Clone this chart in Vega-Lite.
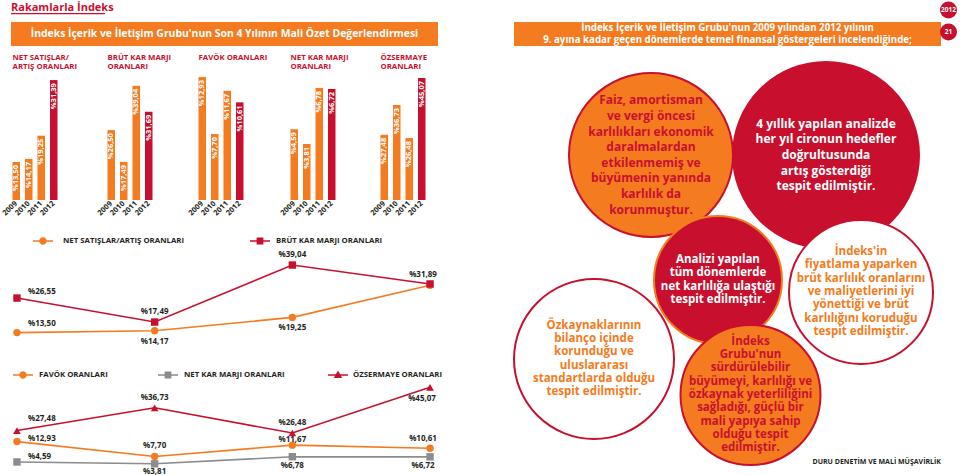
{
"$schema": "https://vega.github.io/schema/vega-lite/v6.json",
"padding": 0,
"background": "white",
"spacing": 0,
"bounds": "flush",
"resolve": {"scale": {"color": "independent", "shape": "independent", "fill": "independent", "stroke": "independent", "size": "independent"}},
"config": {"view": {"stroke": null}, "font": "Open Sans"},
"datasets": {
"cubuk": [
{"gosterge":"Net Satışlar","yil":"2009","deger":13.50},
{"gosterge":"Net Satışlar","yil":"2010","deger":14.17},
{"gosterge":"Net Satışlar","yil":"2011","deger":19.25},
{"gosterge":"Net Satışlar","yil":"2012","deger":31.39},
{"gosterge":"Brüt Kar Marjı","yil":"2009","deger":26.50},
{"gosterge":"Brüt Kar Marjı","yil":"2010","deger":17.49},
{"gosterge":"Brüt Kar Marjı","yil":"2011","deger":39.04},
{"gosterge":"Brüt Kar Marjı","yil":"2012","deger":31.69},
{"gosterge":"FAVÖK","yil":"2009","deger":12.93},
{"gosterge":"FAVÖK","yil":"2010","deger":7.70},
{"gosterge":"FAVÖK","yil":"2011","deger":11.67},
{"gosterge":"FAVÖK","yil":"2012","deger":10.61},
{"gosterge":"Net Kar Marjı","yil":"2009","deger":4.59},
{"gosterge":"Net Kar Marjı","yil":"2010","deger":3.81},
{"gosterge":"Net Kar Marjı","yil":"2011","deger":6.78},
{"gosterge":"Net Kar Marjı","yil":"2012","deger":6.72},
{"gosterge":"Özsermaye","yil":"2009","deger":27.48},
{"gosterge":"Özsermaye","yil":"2010","deger":36.73},
{"gosterge":"Özsermaye","yil":"2011","deger":26.48},
{"gosterge":"Özsermaye","yil":"2012","deger":45.07}
],
"cizgi": [
{"grafik":"A","seri":"NET SATIŞLAR/ARTIŞ ORANLARI","yil":"2009","deger":13.50},
{"grafik":"A","seri":"NET SATIŞLAR/ARTIŞ ORANLARI","yil":"2010","deger":14.17},
{"grafik":"A","seri":"NET SATIŞLAR/ARTIŞ ORANLARI","yil":"2011","deger":19.25},
{"grafik":"A","seri":"NET SATIŞLAR/ARTIŞ ORANLARI","yil":"2012","deger":31.39},
{"grafik":"A","seri":"BRÜT KAR MARJI ORANLARI","yil":"2009","deger":26.55},
{"grafik":"A","seri":"BRÜT KAR MARJI ORANLARI","yil":"2010","deger":17.49},
{"grafik":"A","seri":"BRÜT KAR MARJI ORANLARI","yil":"2011","deger":39.04},
{"grafik":"A","seri":"BRÜT KAR MARJI ORANLARI","yil":"2012","deger":31.89},
{"grafik":"B","seri":"FAVÖK ORANLARI","yil":"2009","deger":12.93},
{"grafik":"B","seri":"FAVÖK ORANLARI","yil":"2010","deger":7.70},
{"grafik":"B","seri":"FAVÖK ORANLARI","yil":"2011","deger":11.67},
{"grafik":"B","seri":"FAVÖK ORANLARI","yil":"2012","deger":10.61},
{"grafik":"B","seri":"NET KAR MARJI ORANLARI","yil":"2009","deger":4.59},
{"grafik":"B","seri":"NET KAR MARJI ORANLARI","yil":"2010","deger":3.81},
{"grafik":"B","seri":"NET KAR MARJI ORANLARI","yil":"2011","deger":6.78},
{"grafik":"B","seri":"NET KAR MARJI ORANLARI","yil":"2012","deger":6.72},
{"grafik":"B","seri":"ÖZSERMAYE ORANLARI","yil":"2009","deger":27.48},
{"grafik":"B","seri":"ÖZSERMAYE ORANLARI","yil":"2010","deger":36.73},
{"grafik":"B","seri":"ÖZSERMAYE ORANLARI","yil":"2011","deger":26.48},
{"grafik":"B","seri":"ÖZSERMAYE ORANLARI","yil":"2012","deger":45.07}
],
"baloncuk": [
{"tur":"turuncu","x":20.5,"y":10.9,"r":8.2,"metin":["Faiz, amortisman","ve vergi öncesi","karlılıkları ekonomik","daralmalardan","etkilenmemiş ve","büyümenin yanında","karlılık da","korunmuştur."]},
{"tur":"kırmızı","x":38.0,"y":10.9,"r":9.3,"metin":["4 yıllık yapılan analizde","her yıl cironun hedefler","doğrultusunda","artış gösterdiği","tespit edilmiştir."]},
{"tur":"kırmızı çerçeveli","x":27.2,"y":23.4,"r":6.4,"metin":["Analizi yapılan","tüm dönemlerde","net karlılığa ulaştığı","tespit edilmiştir."]},
{"tur":"beyaz","x":41.5,"y":24.6,"r":7.2,"metin":["İndeks'in","fiyatlama yaparken","brüt karlılık oranlarını","ve maliyetlerini iyi","yönettiği ve brüt","karlılığını koruduğu","tespit edilmiştir."]},
{"tur":"beyaz","x":14.8,"y":31.3,"r":8.0,"metin":["Özkaynaklarının","bilanço içinde","korunduğu ve","uluslararası","standartlarda olduğu","tespit edilmiştir."]},
{"tur":"turuncu","x":30.45,"y":34.9,"r":7.0,"metin":["İndeks","Grubu'nun","sürdürülebilir","büyümeyi, karlılığı ve","özkaynak yeterliliğini","sağladığı, güçlü bir","mali yapıya sahip","olduğu tespit","edilmiştir."]}
],
"rozet": [{"etiket":"2012"},{"etiket":"21"}]
},
"hconcat": [
{
"vconcat": [
{"width": 1, "height": 13, "data": {"values": []}, "mark": "point"},
{
"hconcat": [
{"width": 10, "height": 1, "data": {"values": []}, "mark": "point"},
{"width": 94, "height": 1.3, "view": {"fill": "#C8102E", "stroke": null}, "data": {"values": []}, "mark": "point"}
],
"spacing": 0, "bounds": "flush"
},
{"width": 1, "height": 9, "data": {"values": []}, "mark": "point"},
{
"hconcat": [
{"width": 10, "height": 24, "data": {"values": []}, "mark": "point"},
{"width": 427, "height": 24, "view": {"fill": "#F47B20", "stroke": null},
 "data": {"values": [{"metin": "İndeks İçerik ve İletişim Grubu'nun Son 4 Yılının Mali Özet Değerlendirmesi"}]},
 "title": {"text": "Rakamlarla İndeks", "anchor": "start", "frame": "group", "offset": 9, "fontSize": 11, "fontWeight": "bold", "color": "#C8102E"},
 "mark": {"type": "text", "fontSize": 10.4, "fontWeight": "bold", "color": "white", "baseline": "middle"},
 "encoding": {"text": {"field": "metin", "type": "nominal"}}},
{"width": 76, "height": 24, "data": {"values": []}, "mark": "point"},
{"width": 427, "height": 24, "view": {"fill": "#F47B20", "stroke": null},
 "data": {"values": [{"metin": ["İndeks İçerik ve İletişim Grubu'nun 2009 yılından 2012 yılının", "9. ayına kadar geçen dönemlerde temel finansal göstergeleri incelendiğinde;"]}]},
 "mark": {"type": "text", "fontSize": 9.7, "lineHeight": 12, "fontWeight": "bold", "color": "white", "baseline": "middle", "dy": -6},
 "encoding": {"text": {"field": "metin", "type": "nominal"}}}
],
"spacing": 0, "bounds": "flush",
"resolve": {"scale": {"color": "independent", "shape": "independent", "fill": "independent", "stroke": "independent", "size": "independent"}}
},
{"width": 1, "height": 24, "data": {"values": []}, "mark": "point"},
{
"hconcat": [
{
"vconcat": [
{"width": 1, "height": 29, "data": {"values": []}, "mark": "point"},
{
"hconcat": [
{"width": 8.5, "height": 1, "data": {"values": []}, "mark": "point"},
{"width": 50, "height": 125, "data": {"name": "cubuk"},
 "transform": [{"filter": "datum.gosterge == 'Net Satışlar'"}, {"calculate": "'%' + replace(format(datum.deger, '.2f'), '.', ',')", "as": "etiket"}],
 "title": {"text": ["NET SATIŞLAR/", "ARTIŞ ORANLARI"], "anchor": "start", "frame": "group", "dx": 2.5, "offset": 4, "fontSize": 7.8, "fontWeight": "bold", "color": "#C8102E", "lineHeight": 9.5},
 "encoding": {
  "x": {"field": "yil", "type": "ordinal", "scale": {"paddingInner": 0.4, "paddingOuter": 0.2}, "axis": {"title": null, "domain": false, "ticks": false, "labelAngle": -45, "labelAlign": "right", "labelBaseline": "middle", "labelFontSize": 7.5, "labelFontWeight": "bold", "labelColor": "#231F20", "labelPadding": 2, "labelOverlap": false}},
  "y": {"field": "deger", "type": "quantitative", "scale": {"domain": [5.2, 32.5], "zero": false, "nice": false, "clamp": true}, "axis": null}},
 "layer": [
  {"mark": {"type": "bar"}, "encoding": {"color": {"condition": {"test": "datum.yil == '2012'", "value": "#C8102E"}, "value": "#F47B20"}}},
  {"mark": {"type": "text", "angle": 270, "align": "right", "baseline": "middle", "dx": -3, "fontSize": 7.5, "fontWeight": "bold", "color": "white"}, "encoding": {"text": {"field": "etiket", "type": "nominal"}}}
 ]},
{"width": 45, "height": 1, "data": {"values": []}, "mark": "point"},
{"width": 50, "height": 125, "data": {"name": "cubuk"},
 "transform": [{"filter": "datum.gosterge == 'Brüt Kar Marjı'"}, {"calculate": "'%' + replace(format(datum.deger, '.2f'), '.', ',')", "as": "etiket"}],
 "title": {"text": ["BRÜT KAR MARJI", "ORANLARI"], "anchor": "start", "frame": "group", "dx": 2.5, "offset": 4, "fontSize": 7.8, "fontWeight": "bold", "color": "#C8102E", "lineHeight": 9.5},
 "encoding": {
  "x": {"field": "yil", "type": "ordinal", "scale": {"paddingInner": 0.4, "paddingOuter": 0.2}, "axis": {"title": null, "domain": false, "ticks": false, "labelAngle": -45, "labelAlign": "right", "labelBaseline": "middle", "labelFontSize": 7.5, "labelFontWeight": "bold", "labelColor": "#231F20", "labelPadding": 2, "labelOverlap": false}},
  "y": {"field": "deger", "type": "quantitative", "scale": {"domain": [6.7, 42.1], "zero": false, "nice": false, "clamp": true}, "axis": null}},
 "layer": [
  {"mark": {"type": "bar"}, "encoding": {"color": {"condition": {"test": "datum.yil == '2012'", "value": "#C8102E"}, "value": "#F47B20"}}},
  {"mark": {"type": "text", "angle": 270, "align": "right", "baseline": "middle", "dx": -3, "fontSize": 7.5, "fontWeight": "bold", "color": "white"}, "encoding": {"text": {"field": "etiket", "type": "nominal"}}}
 ]},
{"width": 41, "height": 1, "data": {"values": []}, "mark": "point"},
{"width": 50, "height": 125, "data": {"name": "cubuk"},
 "transform": [{"filter": "datum.gosterge == 'FAVÖK'"}, {"calculate": "'%' + replace(format(datum.deger, '.2f'), '.', ',')", "as": "etiket"}],
 "title": {"text": ["FAVÖK ORANLARI", " "], "anchor": "start", "frame": "group", "dx": 2.5, "offset": 4, "fontSize": 7.8, "fontWeight": "bold", "color": "#C8102E", "lineHeight": 9.5},
 "encoding": {
  "x": {"field": "yil", "type": "ordinal", "scale": {"paddingInner": 0.4, "paddingOuter": 0.2}, "axis": {"title": null, "domain": false, "ticks": false, "labelAngle": -45, "labelAlign": "right", "labelBaseline": "middle", "labelFontSize": 7.5, "labelFontWeight": "bold", "labelColor": "#231F20", "labelPadding": 2, "labelOverlap": false}},
  "y": {"field": "deger", "type": "quantitative", "scale": {"domain": [1.65, 13.12], "zero": false, "nice": false, "clamp": true}, "axis": null}},
 "layer": [
  {"mark": {"type": "bar"}, "encoding": {"color": {"condition": {"test": "datum.yil == '2012'", "value": "#C8102E"}, "value": "#F47B20"}}},
  {"mark": {"type": "text", "angle": 270, "align": "right", "baseline": "middle", "dx": -3, "fontSize": 7.5, "fontWeight": "bold", "color": "white"}, "encoding": {"text": {"field": "etiket", "type": "nominal"}}}
 ]},
{"width": 42, "height": 1, "data": {"values": []}, "mark": "point"},
{"width": 50, "height": 125, "data": {"name": "cubuk"},
 "transform": [{"filter": "datum.gosterge == 'Net Kar Marjı'"}, {"calculate": "'%' + replace(format(datum.deger, '.2f'), '.', ',')", "as": "etiket"}],
 "title": {"text": ["NET KAR MARJI", "ORANLARI"], "anchor": "start", "frame": "group", "dx": 2.5, "offset": 4, "fontSize": 7.8, "fontWeight": "bold", "color": "#C8102E", "lineHeight": 9.5},
 "encoding": {
  "x": {"field": "yil", "type": "ordinal", "scale": {"paddingInner": 0.4, "paddingOuter": 0.2}, "axis": {"title": null, "domain": false, "ticks": false, "labelAngle": -45, "labelAlign": "right", "labelBaseline": "middle", "labelFontSize": 7.5, "labelFontWeight": "bold", "labelColor": "#231F20", "labelPadding": 2, "labelOverlap": false}},
  "y": {"field": "deger", "type": "quantitative", "scale": {"domain": [0.85, 7.46], "zero": false, "nice": false, "clamp": true}, "axis": null}},
 "layer": [
  {"mark": {"type": "bar"}, "encoding": {"color": {"condition": {"test": "datum.yil == '2012'", "value": "#C8102E"}, "value": "#F47B20"}}},
  {"mark": {"type": "text", "angle": 270, "align": "right", "baseline": "middle", "dx": -3, "fontSize": 7.5, "fontWeight": "bold", "color": "white"}, "encoding": {"text": {"field": "etiket", "type": "nominal"}}}
 ]},
{"width": 40, "height": 1, "data": {"values": []}, "mark": "point"},
{"width": 50, "height": 125, "data": {"name": "cubuk"},
 "transform": [{"filter": "datum.gosterge == 'Özsermaye'"}, {"calculate": "'%' + replace(format(datum.deger, '.2f'), '.', ',')", "as": "etiket"}],
 "title": {"text": ["ÖZSERMAYE", "ORANLARI"], "anchor": "start", "frame": "group", "dx": 2.5, "offset": 4, "fontSize": 7.8, "fontWeight": "bold", "color": "#C8102E", "lineHeight": 9.5},
 "encoding": {
  "x": {"field": "yil", "type": "ordinal", "scale": {"paddingInner": 0.4, "paddingOuter": 0.2}, "axis": {"title": null, "domain": false, "ticks": false, "labelAngle": -45, "labelAlign": "right", "labelBaseline": "middle", "labelFontSize": 7.5, "labelFontWeight": "bold", "labelColor": "#231F20", "labelPadding": 2, "labelOverlap": false}},
  "y": {"field": "deger", "type": "quantitative", "scale": {"domain": [7.3, 46.0], "zero": false, "nice": false, "clamp": true}, "axis": null}},
 "layer": [
  {"mark": {"type": "bar"}, "encoding": {"color": {"condition": {"test": "datum.yil == '2012'", "value": "#C8102E"}, "value": "#F47B20"}}},
  {"mark": {"type": "text", "angle": 270, "align": "right", "baseline": "middle", "dx": -3, "fontSize": 7.5, "fontWeight": "bold", "color": "white"}, "encoding": {"text": {"field": "etiket", "type": "nominal"}}}
 ]}
],
"spacing": 0, "bounds": "flush",
"resolve": {"scale": {"color": "independent", "shape": "independent", "fill": "independent", "stroke": "independent", "size": "independent"}}
},
{"width": 1, "height": 155.5, "data": {"values": []}, "mark": "point"},
{
"hconcat": [
{"width": 32, "height": 1, "data": {"values": []}, "mark": "point"},
{"width": 20, "height": 20, "data": {"values": [{"seri": "NET SATIŞLAR/ARTIŞ ORANLARI"}]},
 "layer": [
  {"mark": {"type": "point", "shape": "M-1,-0.075H1V0.075H-1Z M0.37,0A0.37,0.37,0,1,1,-0.37,0A0.37,0.37,0,1,1,0.37,0Z", "size": 400, "filled": true, "opacity": 1, "color": "#F47B20"}},
  {"mark": {"type": "text", "align": "left", "baseline": "middle", "dx": 20, "fontSize": 7.8, "fontWeight": "bold", "color": "#231F20"}, "encoding": {"text": {"field": "seri", "type": "nominal"}}}
 ]},
{"width": 197, "height": 1, "data": {"values": []}, "mark": "point"},
{"width": 20, "height": 20, "data": {"values": [{"seri": "BRÜT KAR MARJI ORANLARI"}]},
 "layer": [
  {"mark": {"type": "point", "shape": "M-1,-0.075H1V0.075H-1Z M-0.34,-0.34H0.34V0.34H-0.34Z", "size": 400, "filled": true, "opacity": 1, "color": "#C8102E"}},
  {"mark": {"type": "text", "align": "left", "baseline": "middle", "dx": 16, "fontSize": 7.8, "fontWeight": "bold", "color": "#231F20"}, "encoding": {"text": {"field": "seri", "type": "nominal"}}}
 ]}
],
"spacing": 0, "bounds": "flush",
"resolve": {"scale": {"color": "independent", "shape": "independent", "fill": "independent", "stroke": "independent", "size": "independent"}}
},
{"width": 1, "height": 24.5, "data": {"values": []}, "mark": "point"},
{"width": 445, "height": 90, "data": {"name": "cizgi"},
 "transform": [{"filter": "datum.grafik == 'A'"}, {"calculate": "'%' + replace(format(datum.deger, '.2f'), '.', ',')", "as": "etiket"}],
 "encoding": {
  "x": {"field": "yil", "type": "ordinal", "scale": {"type": "point", "padding": 0.116}, "axis": null},
  "y": {"field": "deger", "type": "quantitative", "scale": {"domain": [8.43, 42.46], "zero": false, "nice": false}, "axis": null},
  "color": {"field": "seri", "type": "nominal", "scale": {"domain": ["NET SATIŞLAR/ARTIŞ ORANLARI", "BRÜT KAR MARJI ORANLARI"], "range": ["#F47B20", "#C8102E"]}, "legend": null}},
 "layer": [
  {"mark": {"type": "line", "strokeWidth": 1.6}},
  {"mark": {"type": "point", "filled": true, "opacity": 1, "size": 55},
   "encoding": {"shape": {"field": "seri", "type": "nominal", "scale": {"domain": ["NET SATIŞLAR/ARTIŞ ORANLARI", "BRÜT KAR MARJI ORANLARI"], "range": ["circle", "square"]}, "legend": null}}},
  {"transform": [{"filter": "datum.seri == 'BRÜT KAR MARJI ORANLARI' && datum.yil == '2009'"}], "mark": {"type": "text", "fontSize": 8, "fontWeight": "bold", "baseline": "middle", "align": "left", "dx": 11, "dy": -6}, "encoding": {"text": {"field": "etiket", "type": "nominal"}, "color": {"value": "#231F20"}}},
  {"transform": [{"filter": "datum.seri == 'NET SATIŞLAR/ARTIŞ ORANLARI' && datum.yil == '2009'"}], "mark": {"type": "text", "fontSize": 8, "fontWeight": "bold", "baseline": "middle", "align": "left", "dx": 11, "dy": -9}, "encoding": {"text": {"field": "etiket", "type": "nominal"}, "color": {"value": "#231F20"}}},
  {"transform": [{"filter": "datum.seri == 'BRÜT KAR MARJI ORANLARI' && (datum.yil == '2010' || datum.yil == '2011')"}], "mark": {"type": "text", "fontSize": 8, "fontWeight": "bold", "baseline": "middle", "align": "center", "dy": -10}, "encoding": {"text": {"field": "etiket", "type": "nominal"}, "color": {"value": "#231F20"}}},
  {"transform": [{"filter": "datum.seri == 'BRÜT KAR MARJI ORANLARI' && datum.yil == '2012'"}], "mark": {"type": "text", "fontSize": 8, "fontWeight": "bold", "baseline": "middle", "align": "center", "dx": -7, "dy": -9}, "encoding": {"text": {"field": "etiket", "type": "nominal"}, "color": {"value": "#231F20"}}},
  {"transform": [{"filter": "datum.seri == 'NET SATIŞLAR/ARTIŞ ORANLARI' && (datum.yil == '2010' || datum.yil == '2011')"}], "mark": {"type": "text", "fontSize": 8, "fontWeight": "bold", "baseline": "middle", "align": "center", "dy": 11}, "encoding": {"text": {"field": "etiket", "type": "nominal"}, "color": {"value": "#231F20"}}}
 ]},
{"width": 1, "height": 18.3, "data": {"values": []}, "mark": "point"},
{
"hconcat": [
{"width": 12, "height": 1, "data": {"values": []}, "mark": "point"},
{"width": 20, "height": 20, "data": {"values": [{"seri": "FAVÖK ORANLARI"}]},
 "layer": [
  {"mark": {"type": "point", "shape": "M-1,-0.075H1V0.075H-1Z M0.37,0A0.37,0.37,0,1,1,-0.37,0A0.37,0.37,0,1,1,0.37,0Z", "size": 400, "filled": true, "opacity": 1, "color": "#F47B20"}},
  {"mark": {"type": "text", "align": "left", "baseline": "middle", "dx": 16, "fontSize": 7.8, "fontWeight": "bold", "color": "#231F20"}, "encoding": {"text": {"field": "seri", "type": "nominal"}}}
 ]},
{"width": 125, "height": 1, "data": {"values": []}, "mark": "point"},
{"width": 20, "height": 20, "data": {"values": [{"seri": "NET KAR MARJI ORANLARI"}]},
 "layer": [
  {"mark": {"type": "point", "shape": "M-1,-0.075H1V0.075H-1Z M-0.34,-0.34H0.34V0.34H-0.34Z", "size": 400, "filled": true, "opacity": 1, "color": "#8A8C8E"}},
  {"mark": {"type": "text", "align": "left", "baseline": "middle", "dx": 16, "fontSize": 7.8, "fontWeight": "bold", "color": "#231F20"}, "encoding": {"text": {"field": "seri", "type": "nominal"}}}
 ]},
{"width": 150, "height": 1, "data": {"values": []}, "mark": "point"},
{"width": 20, "height": 20, "data": {"values": [{"seri": "ÖZSERMAYE ORANLARI"}]},
 "layer": [
  {"mark": {"type": "point", "shape": "M-1,-0.075H1V0.075H-1Z M0,-0.45L0.42,0.3H-0.42Z", "size": 400, "filled": true, "opacity": 1, "color": "#C8102E"}},
  {"mark": {"type": "text", "align": "left", "baseline": "middle", "dx": 15, "fontSize": 7.8, "fontWeight": "bold", "color": "#231F20"}, "encoding": {"text": {"field": "seri", "type": "nominal"}}}
 ]}
],
"spacing": 0, "bounds": "flush",
"resolve": {"scale": {"color": "independent", "shape": "independent", "fill": "independent", "stroke": "independent", "size": "independent"}}
},
{"width": 1, "height": 14.7, "data": {"values": []}, "mark": "point"},
{"width": 445, "height": 92, "data": {"name": "cizgi"},
 "transform": [{"filter": "datum.grafik == 'B'"}, {"calculate": "'%' + replace(format(datum.deger, '.2f'), '.', ',')", "as": "etiket"}],
 "encoding": {
  "x": {"field": "yil", "type": "ordinal", "scale": {"type": "point", "padding": 0.116}, "axis": null},
  "color": {"field": "seri", "type": "nominal", "scale": {"domain": ["FAVÖK ORANLARI", "NET KAR MARJI ORANLARI", "ÖZSERMAYE ORANLARI"], "range": ["#F47B20", "#8A8C8E", "#C8102E"]}, "legend": null}},
 "resolve": {"scale": {"y": "independent"}},
 "layer": [
  {"transform": [{"filter": "datum.seri == 'NET KAR MARJI ORANLARI'"}],
   "encoding": {"y": {"field": "deger", "type": "quantitative", "scale": {"domain": [0.40, 38.75], "zero": false, "nice": false}, "axis": null}},
   "layer": [
    {"mark": {"type": "line", "strokeWidth": 1.6}},
    {"mark": {"type": "point", "filled": true, "opacity": 1, "size": 55},
     "encoding": {"shape": {"field": "seri", "type": "nominal", "scale": {"domain": ["FAVÖK ORANLARI", "NET KAR MARJI ORANLARI", "ÖZSERMAYE ORANLARI"], "range": ["circle", "square", "triangle-up"]}, "legend": null}}},
    {"transform": [{"filter": "datum.yil == '2009'"}], "mark": {"type": "text", "fontSize": 8, "fontWeight": "bold", "baseline": "middle", "align": "left", "dx": 11, "dy": -5}, "encoding": {"text": {"field": "etiket", "type": "nominal"}, "color": {"value": "#231F20"}}},
    {"transform": [{"filter": "datum.yil == '2010'"}], "mark": {"type": "text", "fontSize": 8, "fontWeight": "bold", "baseline": "middle", "align": "center", "dy": 8}, "encoding": {"text": {"field": "etiket", "type": "nominal"}, "color": {"value": "#231F20"}}},
    {"transform": [{"filter": "datum.yil == '2011'"}], "mark": {"type": "text", "fontSize": 8, "fontWeight": "bold", "baseline": "middle", "align": "center", "dy": 9.5}, "encoding": {"text": {"field": "etiket", "type": "nominal"}, "color": {"value": "#231F20"}}},
    {"transform": [{"filter": "datum.yil == '2012'"}], "mark": {"type": "text", "fontSize": 8, "fontWeight": "bold", "baseline": "middle", "align": "center", "dx": -7, "dy": 9.5}, "encoding": {"text": {"field": "etiket", "type": "nominal"}, "color": {"value": "#231F20"}}}
   ]},
  {"transform": [{"filter": "datum.seri == 'FAVÖK ORANLARI'"}],
   "encoding": {"y": {"field": "deger", "type": "quantitative", "scale": {"domain": [2.24, 34.57], "zero": false, "nice": false}, "axis": null}},
   "layer": [
    {"mark": {"type": "line", "strokeWidth": 1.6}},
    {"mark": {"type": "point", "filled": true, "opacity": 1, "size": 55},
     "encoding": {"shape": {"field": "seri", "type": "nominal", "scale": {"domain": ["FAVÖK ORANLARI", "NET KAR MARJI ORANLARI", "ÖZSERMAYE ORANLARI"], "range": ["circle", "square", "triangle-up"]}, "legend": null}}},
    {"transform": [{"filter": "datum.yil == '2009'"}], "mark": {"type": "text", "fontSize": 8, "fontWeight": "bold", "baseline": "middle", "align": "left", "dx": 11, "dy": -3}, "encoding": {"text": {"field": "etiket", "type": "nominal"}, "color": {"value": "#231F20"}}},
    {"transform": [{"filter": "datum.yil == '2010'"}], "mark": {"type": "text", "fontSize": 8, "fontWeight": "bold", "baseline": "middle", "align": "center", "dy": -10}, "encoding": {"text": {"field": "etiket", "type": "nominal"}, "color": {"value": "#231F20"}}},
    {"transform": [{"filter": "datum.yil == '2011'"}], "mark": {"type": "text", "fontSize": 8, "fontWeight": "bold", "baseline": "middle", "align": "center", "dy": -5}, "encoding": {"text": {"field": "etiket", "type": "nominal"}, "color": {"value": "#231F20"}}},
    {"transform": [{"filter": "datum.yil == '2012'"}], "mark": {"type": "text", "fontSize": 8, "fontWeight": "bold", "baseline": "middle", "align": "center", "dx": -7, "dy": -9}, "encoding": {"text": {"field": "etiket", "type": "nominal"}, "color": {"value": "#231F20"}}}
   ]},
  {"transform": [{"filter": "datum.seri == 'ÖZSERMAYE ORANLARI'"}],
   "encoding": {"y": {"field": "deger", "type": "quantitative", "scale": {"domain": [10.61, 48.04], "zero": false, "nice": false}, "axis": null}},
   "layer": [
    {"mark": {"type": "line", "strokeWidth": 1.6}},
    {"mark": {"type": "point", "filled": true, "opacity": 1, "size": 60},
     "encoding": {"shape": {"field": "seri", "type": "nominal", "scale": {"domain": ["FAVÖK ORANLARI", "NET KAR MARJI ORANLARI", "ÖZSERMAYE ORANLARI"], "range": ["circle", "square", "triangle-up"]}, "legend": null}}},
    {"transform": [{"filter": "datum.yil == '2009'"}], "mark": {"type": "text", "fontSize": 8, "fontWeight": "bold", "baseline": "middle", "align": "left", "dx": 11, "dy": -12}, "encoding": {"text": {"field": "etiket", "type": "nominal"}, "color": {"value": "#231F20"}}},
    {"transform": [{"filter": "datum.yil == '2010' || datum.yil == '2011'"}], "mark": {"type": "text", "fontSize": 8, "fontWeight": "bold", "baseline": "middle", "align": "center", "dy": -9.5}, "encoding": {"text": {"field": "etiket", "type": "nominal"}, "color": {"value": "#231F20"}}},
    {"transform": [{"filter": "datum.yil == '2012'"}], "mark": {"type": "text", "fontSize": 8, "fontWeight": "bold", "baseline": "middle", "align": "center", "dx": -8, "dy": 12}, "encoding": {"text": {"field": "etiket", "type": "nominal"}, "color": {"value": "#231F20"}}}
   ]}
 ]}
],
"spacing": 0, "bounds": "flush",
"resolve": {"scale": {"color": "independent", "shape": "independent", "fill": "independent", "stroke": "independent", "size": "independent"}}
},
{"width": 445, "height": 1, "data": {"values": []}, "mark": "point"},
{"width": 495, "height": 405, "data": {"name": "baloncuk"},
 "title": {"text": "DURU DENETİM VE MALİ MÜŞAVİRLİK", "orient": "bottom", "anchor": "end", "frame": "group", "offset": -11, "fontSize": 7, "fontWeight": "bold", "color": "#231F20"},
 "encoding": {
  "x": {"field": "x", "type": "quantitative", "scale": {"domain": [0, 49.5], "nice": false, "zero": false}, "axis": null},
  "y": {"field": "y", "type": "quantitative", "scale": {"domain": [0, 40.5], "nice": false, "zero": false, "reverse": true}, "axis": null}},
 "layer": [
  {"mark": {"type": "point", "shape": "circle", "filled": true, "opacity": 1, "strokeWidth": 2},
   "encoding": {
    "size": {"field": "r", "type": "quantitative", "scale": {"type": "pow", "exponent": 2, "domain": [0, 10], "range": [0, 40000]}, "legend": null},
    "fill": {"field": "tur", "type": "nominal", "scale": {"domain": ["turuncu", "kırmızı", "kırmızı çerçeveli", "beyaz"], "range": ["#F47B20", "#C8102E", "#C8102E", "#FFFFFF"]}, "legend": null},
    "stroke": {"field": "tur", "type": "nominal", "scale": {"domain": ["turuncu", "kırmızı", "kırmızı çerçeveli", "beyaz"], "range": ["#C8102E", "#C8102E", "#F47B20", "#C8102E"]}, "legend": null}}},
  {"transform": [{"filter": "datum.r > 8"}],
   "mark": {"type": "text", "fontSize": 12, "fontWeight": "bold", "lineHeight": 15.6, "align": "center", "baseline": "middle", "dy": {"expr": "-(length(datum.metin) - 1) * 7.8"}},
   "encoding": {"text": {"field": "metin", "type": "nominal"},
    "color": {"field": "tur", "type": "nominal", "scale": {"domain": ["turuncu", "kırmızı", "kırmızı çerçeveli", "beyaz"], "range": ["#C8102E", "#FFFFFF", "#FFFFFF", "#F47B20"]}, "legend": null}}},
  {"transform": [{"filter": "datum.r <= 8"}],
   "mark": {"type": "text", "fontSize": 11.5, "fontWeight": "bold", "lineHeight": 13.3, "align": "center", "baseline": "middle", "dy": {"expr": "-(length(datum.metin) - 1) * 6.65"}},
   "encoding": {"text": {"field": "metin", "type": "nominal"},
    "color": {"field": "tur", "type": "nominal", "scale": {"domain": ["turuncu", "kırmızı", "kırmızı çerçeveli", "beyaz"], "range": ["#C8102E", "#FFFFFF", "#FFFFFF", "#F47B20"]}, "legend": null}}}
 ]}
],
"spacing": 0, "bounds": "flush",
"resolve": {"scale": {"color": "independent", "shape": "independent", "fill": "independent", "stroke": "independent", "size": "independent"}}
}
],
"spacing": 0, "bounds": "flush",
"resolve": {"scale": {"color": "independent", "shape": "independent", "fill": "independent", "stroke": "independent", "size": "independent"}}
},
{"width": 940, "height": 1, "data": {"values": []}, "mark": "point"},
{"width": 15, "height": 42, "data": {"name": "rozet"},
 "encoding": {"y": {"field": "etiket", "type": "ordinal", "sort": ["2012", "21"], "scale": {"type": "point", "padding": 0.45}, "axis": null}},
 "layer": [
  {"mark": {"type": "circle", "size": 290, "color": "#C8102E", "opacity": 1}},
  {"mark": {"type": "text", "fontSize": 6.5, "fontWeight": "bold", "color": "white", "baseline": "middle"}, "encoding": {"text": {"field": "etiket", "type": "nominal"}}}
 ]}
]
}
